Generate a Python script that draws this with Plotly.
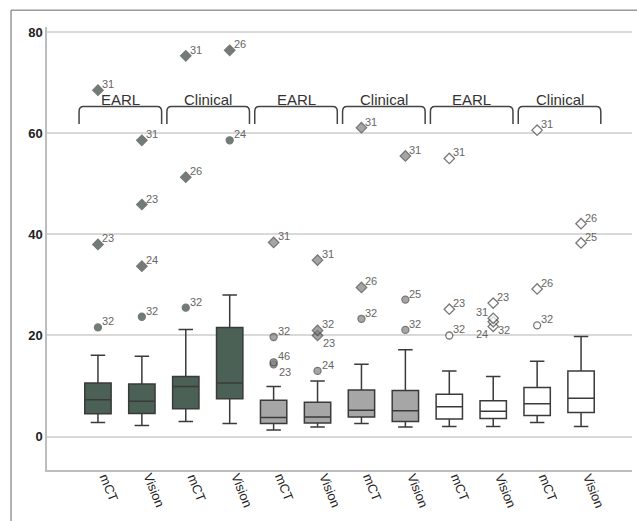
import plotly.graph_objects as go

# ---------------- data ----------------
tick_labels = ["mCT", "Vision"] * 6
group_labels = ["EARL", "Clinical", "EARL", "Clinical", "EARL", "Clinical"]
y_tick_values = [0, 20, 40, 60, 80]

lower_whisker = [2.8, 2.2, 3.0, 2.6, 1.3, 1.9, 2.6, 1.9, 2.0, 2.0, 2.8, 2.0]
q1_values     = [4.5, 4.55, 5.5, 7.5, 2.6, 2.7, 3.9, 3.0, 3.5, 3.6, 4.2, 4.75]
median_values = [7.3, 7.0, 9.9, 10.6, 3.8, 3.9, 5.2, 5.1, 5.9, 5.0, 6.5, 7.6]
q3_values     = [10.6, 10.4, 11.9, 21.6, 7.2, 6.8, 9.2, 9.1, 8.4, 7.1, 9.7, 13.0]
upper_whisker = [16.1, 15.9, 21.2, 28.0, 9.9, 11.0, 14.3, 17.2, 13.0, 11.9, 14.9, 19.8]

# outliers per box: values, case ids, kind (o = outlier, e = extreme)
outlier_values = [
    [21.6, 38.0, 68.5],
    [23.7, 33.7, 45.9, 58.6],
    [25.5, 51.3, 75.3],
    [58.6, 76.4],
    [14.3, 14.7, 19.7, 38.4],
    [13.0, 20.0, 21.0, 34.9],
    [23.3, 29.5, 61.1],
    [21.1, 27.1, 55.5],
    [20.0, 25.2, 55.0],
    [21.8, 22.7, 23.4, 26.4],
    [22.0, 29.2, 60.6],
    [38.3, 42.1],
]
outlier_ids = [
    ["32", "23", "31"],
    ["32", "24", "23", "31"],
    ["32", "26", "31"],
    ["24", "26"],
    ["23", "46", "32", "31"],
    ["24", "23", "32", "31"],
    ["32", "26", "31"],
    ["32", "25", "31"],
    ["32", "23", "31"],
    ["24", "32", "31", "23"],
    ["32", "26", "31"],
    ["25", "26"],
]
outlier_kind = [
    ["o", "e", "e"],
    ["o", "e", "e", "e"],
    ["o", "e", "e"],
    ["o", "e"],
    ["o", "o", "o", "e"],
    ["o", "e", "e", "e"],
    ["o", "e", "e"],
    ["o", "o", "e"],
    ["o", "e", "e"],
    ["e", "e", "e", "e"],
    ["o", "e", "e"],
    ["e", "e"],
]

# ---------------- style ----------------
FONT = "Arial, Liberation Sans, sans-serif"
box_fill = ["#4b6155"] * 4 + ["#a6a6a6"] * 4 + ["#ffffff"] * 4
marker_fill = ["#35453d"] * 4 + ["#808080"] * 4 + ["#ffffff"] * 4
line_col = "#3a3a3a"
# label placement tweaks (anchor side, dx, dy in px)
label_override = {
    (4, "23"): ("below", 3, 0),
    (5, "23"): ("below", 3, 0),
    (9, "31"): ("left", -3, -2),
    (9, "24"): ("leftbelow", -3, 0),
    (9, "32"): ("below", 3, 0),
}

fig = go.Figure()
n = len(tick_labels)
for i in range(n):
    fig.add_trace(go.Box(
        x=[i], q1=[q1_values[i]], median=[median_values[i]], q3=[q3_values[i]],
        lowerfence=[lower_whisker[i]], upperfence=[upper_whisker[i]],
        width=0.6, whiskerwidth=0.55, boxpoints=False,
        fillcolor=box_fill[i], line=dict(color=line_col, width=1.5),
        showlegend=False, hoverinfo="skip",
    ))

annotations = []
for i in range(n):
    vals = outlier_values[i]
    ids = outlier_ids[i]
    kinds = outlier_kind[i]
    fig.add_trace(go.Scatter(
        x=[i] * len(vals), y=vals, mode="markers",
        marker=dict(
            symbol=["diamond" if k == "e" else "circle" for k in kinds],
            size=[8 if k == "e" else 7 for k in kinds],
            color=marker_fill[i], line=dict(color="#404040", width=1.3),
        ),
        showlegend=False, hoverinfo="skip", cliponaxis=False,
    ))
    for v, t in zip(vals, ids):
        side, dx, dy = label_override.get((i, t), ("above", 2, -2))
        xa = "right" if side.startswith("left") else "left"
        ya = "top" if side.endswith("below") else "bottom"
        if side == "left":
            ya = "bottom"
        annotations.append(dict(
            x=i, y=v, xref="x", yref="y", text=t, showarrow=False,
            xanchor=xa, yanchor=ya, xshift=dx, yshift=dy,
            font=dict(family=FONT, size=11, color="#666666"),
        ))

# x tick labels (rotated)
for i, lab in enumerate(tick_labels):
    annotations.append(dict(
        x=i, y=0, xref="x", yref="paper", text=lab, showarrow=False,
        textangle=68, xanchor="left", yanchor="top", xshift=-4, yshift=1,
        font=dict(family=FONT, size=13, color="#222222"),
    ))

# brackets with group labels
shapes = []
y_top, y_bot, ry, rx = 65.3, 61.8, 1.0, 0.1
for g, name in enumerate(group_labels):
    x0 = 2 * g - 0.43
    x1 = 2 * g + 1.45
    path = (f"M {x0},{y_bot} L {x0},{y_top - ry} Q {x0},{y_top} {x0 + rx},{y_top} "
            f"L {x1 - rx},{y_top} Q {x1},{y_top} {x1},{y_top - ry} L {x1},{y_bot}")
    shapes.append(dict(type="path", path=path, xref="x", yref="y",
                       line=dict(color="#444444", width=1.5)))
    annotations.append(dict(x=(x0 + x1) / 2, y=y_top, xref="x", yref="y",
                            text=name, showarrow=False, yanchor="bottom", yshift=-4,
                            font=dict(family=FONT, size=15, color="#333333")))

# outer frame lines
shapes.append(dict(type="line", xref="paper", yref="paper", x0=-0.0615, x1=1.02,
                   y0=1.038, y1=1.038, line=dict(color="#666666", width=1)))
shapes.append(dict(type="line", xref="paper", yref="paper", x0=-0.0615, x1=-0.0615,
                   y0=1.038, y1=-0.2, line=dict(color="#666666", width=1)))

fig.update_layout(
    width=637, height=521,
    margin=dict(l=47, r=5, t=27, b=51),
    paper_bgcolor="white", plot_bgcolor="white",
    shapes=shapes, annotations=annotations,
    showlegend=False,
    xaxis=dict(range=[-1.16, 12.16], tickmode="array", tickvals=list(range(n)),
               showticklabels=False, showgrid=False, zeroline=False,
               showline=True, linecolor="#bdbdbd", linewidth=1.5, ticks=""),
    yaxis=dict(range=[-6.6, 81], tickvals=y_tick_values, showgrid=True,
               gridcolor="#d9d9d9", gridwidth=1.5, zeroline=False, showline=True,
               linecolor="#bdbdbd", linewidth=1.5, ticks="",
               tickfont=dict(family=FONT, size=13, color="#222222", weight="bold")),
)

fig.write_html("out.html", config={"displayModeBar": False},
               post_script="document.body.style.margin='0';")
